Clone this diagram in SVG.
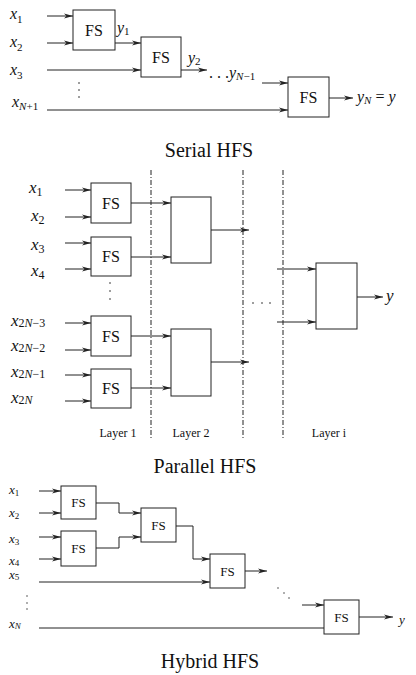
<svg xmlns="http://www.w3.org/2000/svg" width="416" height="675" viewBox="0 0 416 675">
<style>
.box{fill:#fff;stroke:#222;stroke-width:1}
.ln{fill:none;stroke:#222;stroke-width:1}
.ar{fill:none;stroke:#222;stroke-width:1;marker-end:url(#ah)}
.dd{fill:none;stroke:#222;stroke-width:1;stroke-dasharray:5,2,1,2}
.fs{font-family:"Liberation Serif","Times New Roman",serif;font-size:16px;fill:#111;text-anchor:middle}
.fss{font-family:"Liberation Serif","Times New Roman",serif;font-size:13px;fill:#111;text-anchor:middle}
.m{font-family:"Liberation Serif","Times New Roman",serif;font-size:16px;fill:#111;font-style:italic}
.ms{font-family:"Liberation Serif","Times New Roman",serif;font-size:13px;fill:#111;font-style:italic}
.sub{font-size:11px}
.subs{font-size:9px}
.r{font-style:normal}
.t{font-family:"Liberation Serif","Times New Roman",serif;font-size:20px;fill:#111;text-anchor:middle}
.lay{font-family:"Liberation Serif","Times New Roman",serif;font-size:12px;fill:#111;text-anchor:middle}
.dot{fill:#222}
</style>
<defs>
<marker id="ah" markerUnits="userSpaceOnUse" markerWidth="10" markerHeight="6" refX="9" refY="3" orient="auto">
<path d="M0,0.6 L9,3 L0,5.4 L2.5,3 Z" fill="#222"/>
</marker>
</defs>
<rect width="416" height="675" fill="#fff"/>

<g id="connectors">
<line class="ar" x1="47" y1="16" x2="73" y2="16"/>
<line class="ar" x1="47" y1="43" x2="73" y2="43"/>
<line class="ar" x1="115" y1="43" x2="141" y2="43"/>
<line class="ar" x1="47" y1="70" x2="141" y2="70"/>
<line class="ar" x1="181" y1="70" x2="207" y2="70"/>
<line class="ar" x1="262" y1="83" x2="288" y2="83"/>
<line class="ar" x1="47" y1="110" x2="288" y2="110"/>
<line class="ar" x1="329" y1="98" x2="353" y2="98"/>

<line class="ar" x1="65" y1="190" x2="91" y2="190"/>
<line class="ar" x1="65" y1="217" x2="91" y2="217"/>
<line class="ar" x1="65" y1="243" x2="91" y2="243"/>
<line class="ar" x1="65" y1="269" x2="91" y2="269"/>
<line class="ar" x1="131" y1="203" x2="171" y2="203"/>
<line class="ar" x1="131" y1="257" x2="171" y2="257"/>
<line class="ar" x1="211" y1="230" x2="249" y2="230"/>
<line class="ar" x1="65" y1="323" x2="91" y2="323"/>
<line class="ar" x1="65" y1="350" x2="91" y2="350"/>
<line class="ar" x1="65" y1="375" x2="91" y2="375"/>
<line class="ar" x1="65" y1="401" x2="91" y2="401"/>
<line class="ar" x1="131" y1="336" x2="171" y2="336"/>
<line class="ar" x1="131" y1="388" x2="171" y2="388"/>
<line class="ar" x1="211" y1="362" x2="249" y2="362"/>
<line class="ar" x1="277" y1="269" x2="316" y2="269"/>
<line class="ar" x1="277" y1="322" x2="316" y2="322"/>
<line class="ar" x1="357" y1="297" x2="383" y2="297"/>

<line class="ar" x1="39" y1="491" x2="61" y2="491"/>
<line class="ar" x1="39" y1="513" x2="61" y2="513"/>
<line class="ar" x1="39" y1="537" x2="61" y2="537"/>
<line class="ar" x1="39" y1="559" x2="61" y2="559"/>
<polyline class="ar" points="96,503 119,503 119,513 141,513"/>
<polyline class="ar" points="96,548 119,548 119,537 141,537"/>
<polyline class="ar" points="176,526 193,526 193,559 210,559"/>
<line class="ar" x1="39" y1="582" x2="210" y2="582"/>
<line class="ar" x1="245" y1="571" x2="267" y2="571"/>
<line class="ar" x1="302" y1="605" x2="324" y2="605"/>
<line class="ln" x1="39" y1="628" x2="324" y2="628"/>
<line class="ar" x1="359" y1="617" x2="393" y2="617"/>
</g>

<g id="layers">
<line class="dd" x1="151" y1="170" x2="151" y2="438"/>
<line class="dd" x1="243" y1="170" x2="243" y2="438"/>
<line class="dd" x1="283" y1="170" x2="283" y2="438"/>
<text class="lay" x="118" y="437">Layer 1</text>
<text class="lay" x="191" y="437">Layer 2</text>
<text class="lay" x="329" y="437">Layer i</text>
</g>

<g id="serial-fs1"><rect class="box" x="73" y="10" width="42" height="40"/><text class="fs" x="94" y="36">FS</text></g>
<g id="serial-fs2"><rect class="box" x="141" y="37" width="40" height="40"/><text class="fs" x="161" y="63">FS</text></g>
<g id="serial-fs3"><rect class="box" x="288" y="77" width="41" height="40"/><text class="fs" x="308.5" y="103">FS</text></g>

<g id="serial-labels">
<text class="m" x="10" y="19">x<tspan class="sub r" dy="4">1</tspan></text>
<text class="m" x="10" y="47">x<tspan class="sub r" dy="4">2</tspan></text>
<text class="m" x="10" y="75">x<tspan class="sub r" dy="4">3</tspan></text>
<text class="m" x="12" y="107">x<tspan class="sub" dy="3">N<tspan class="r">+1</tspan></tspan></text>
<text class="m" x="117" y="33">y<tspan class="sub r" dy="2">1</tspan></text>
<text class="m" x="188" y="63">y<tspan class="sub r" dy="2">2</tspan></text>
<text class="m" x="209" y="78"><tspan class="r">. . .</tspan>y<tspan class="sub" dy="2">N<tspan class="r">−1</tspan></tspan></text>
<text class="m" x="357" y="102">y<tspan class="sub" dy="2">N</tspan><tspan dy="-2" class="r"> = </tspan>y</text>
<circle class="dot" cx="79" cy="83" r="0.8"/>
<circle class="dot" cx="79" cy="90" r="0.8"/>
<circle class="dot" cx="79" cy="97" r="0.8"/>
</g>
<text class="t" x="209" y="157">Serial HFS</text>

<g id="par-fs1"><rect class="box" x="91" y="183" width="40" height="40"/><text class="fs" x="111" y="209">FS</text></g>
<g id="par-fs2"><rect class="box" x="91" y="237" width="40" height="39"/><text class="fs" x="111" y="262">FS</text></g>
<g id="par-fs3"><rect class="box" x="91" y="316" width="40" height="40"/><text class="fs" x="111" y="342">FS</text></g>
<g id="par-fs4"><rect class="box" x="91" y="369" width="40" height="39"/><text class="fs" x="111" y="394">FS</text></g>
<g id="par-l2a"><rect class="box" x="171" y="197" width="40" height="66"/></g>
<g id="par-l2b"><rect class="box" x="171" y="329" width="40" height="67"/></g>
<g id="par-li"><rect class="box" x="316" y="263" width="41" height="66"/></g>

<g id="par-labels">
<text class="m" x="29" y="193" style="font-size:17px">x<tspan class="sub r" dy="3" style="font-size:12px">1</tspan></text>
<text class="m" x="31" y="221" style="font-size:17px">x<tspan class="sub r" dy="3" style="font-size:12px">2</tspan></text>
<text class="m" x="31" y="250" style="font-size:17px">x<tspan class="sub r" dy="3" style="font-size:12px">3</tspan></text>
<text class="m" x="31" y="276" style="font-size:17px">x<tspan class="sub r" dy="3" style="font-size:12px">4</tspan></text>
<text class="m" x="11" y="326" style="font-size:17px">x<tspan class="sub r" dy="1" style="font-size:12px">2<tspan style="font-style:italic">N</tspan>−3</tspan></text>
<text class="m" x="11" y="351" style="font-size:17px">x<tspan class="sub r" dy="1" style="font-size:12px">2<tspan style="font-style:italic">N</tspan>−2</tspan></text>
<text class="m" x="11" y="377" style="font-size:17px">x<tspan class="sub r" dy="1" style="font-size:12px">2<tspan style="font-style:italic">N</tspan>−1</tspan></text>
<text class="m" x="11" y="403" style="font-size:17px">x<tspan class="sub r" dy="1" style="font-size:12px">2<tspan style="font-style:italic">N</tspan></tspan></text>
<text class="m" x="386" y="301" style="font-size:17px">y</text>
<circle class="dot" cx="110" cy="283" r="0.8"/>
<circle class="dot" cx="110" cy="291" r="0.8"/>
<circle class="dot" cx="110" cy="299" r="0.8"/>
<circle class="dot" cx="253" cy="303" r="0.8"/>
<circle class="dot" cx="262" cy="303" r="0.8"/>
<circle class="dot" cx="270" cy="303" r="0.8"/>
</g>
<text class="t" x="205" y="473">Parallel HFS</text>

<g id="hyb-fsA"><rect class="box" x="61" y="486" width="35" height="33"/><text class="fss" x="78.5" y="507">FS</text></g>
<g id="hyb-fsB"><rect class="box" x="61" y="531" width="35" height="35"/><text class="fss" x="78.5" y="553">FS</text></g>
<g id="hyb-fsC"><rect class="box" x="141" y="508" width="35" height="34"/><text class="fss" x="158.5" y="530">FS</text></g>
<g id="hyb-fsD"><rect class="box" x="210" y="554" width="35" height="34"/><text class="fss" x="227.5" y="576">FS</text></g>
<g id="hyb-fsE"><rect class="box" x="324" y="600" width="35" height="34"/><text class="fss" x="341.5" y="622">FS</text></g>

<g id="hyb-labels">
<text class="ms" x="9" y="494">x<tspan class="subs r" dy="2">1</tspan></text>
<text class="ms" x="9" y="517">x<tspan class="subs r" dy="2">2</tspan></text>
<text class="ms" x="9" y="543">x<tspan class="subs r" dy="2">3</tspan></text>
<text class="ms" x="9" y="565">x<tspan class="subs r" dy="1">4</tspan></text>
<text class="ms" x="9" y="579">x<tspan class="subs r" dy="1">5</tspan></text>
<text class="ms" x="9" y="628">x<tspan class="subs" dy="1">N</tspan></text>
<text class="ms" x="399" y="624">y</text>
<circle class="dot" cx="27" cy="596" r="0.7"/>
<circle class="dot" cx="27" cy="603" r="0.7"/>
<circle class="dot" cx="27" cy="609" r="0.7"/>
<circle class="dot" cx="278" cy="588" r="0.7"/>
<circle class="dot" cx="284" cy="593" r="0.7"/>
<circle class="dot" cx="289" cy="598" r="0.7"/>
</g>
<text class="t" x="210" y="668">Hybrid HFS</text>
</svg>
